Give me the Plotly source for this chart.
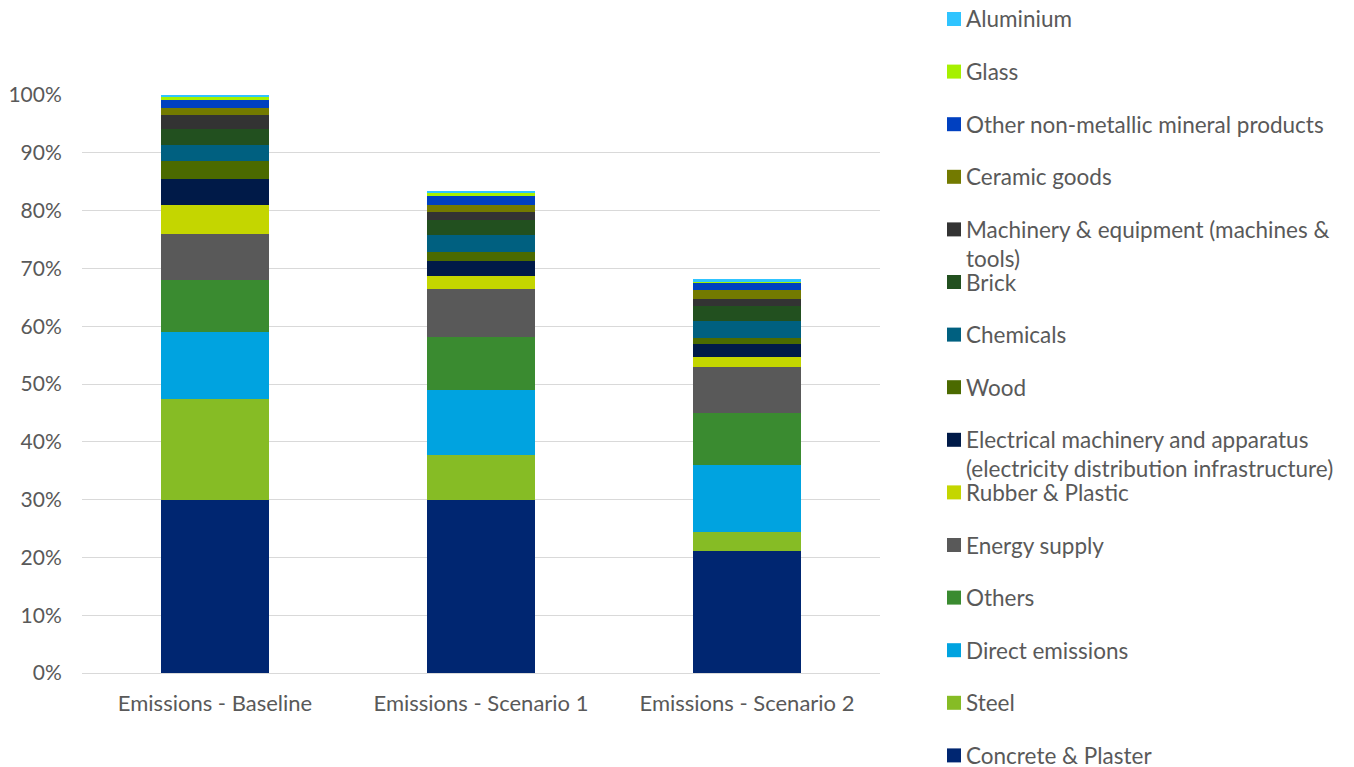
import plotly.graph_objects as go

categories = ["Emissions - Baseline", "Emissions - Scenario 1", "Emissions - Scenario 2"]

series_names = [
    "Concrete & Plaster", "Steel", "Direct emissions", "Others", "Energy supply",
    "Rubber & Plastic",
    "Electrical machinery and apparatus<br>(electricity distribution infrastructure)",
    "Wood", "Chemicals", "Brick", "Machinery & equipment (machines &<br>tools)",
    "Ceramic goods", "Other non-metallic mineral products", "Glass", "Aluminium",
]

concrete = [30.0, 30.0, 21.1]
steel = [17.4, 7.7, 3.3]
direct = [11.6, 11.3, 11.6]
others = [9.0, 9.1, 9.0]
energy = [8.0, 8.3, 7.9]
rubber = [5.0, 2.3, 1.8]
electrical = [4.4, 2.5, 2.3]
wood = [3.1, 1.7, 1.0]
chemicals = [2.8, 2.9, 2.9]
brick = [2.8, 2.6, 2.6]
machinery = [2.4, 1.4, 1.2]
ceramic = [1.3, 1.2, 1.6]
other_nonmetal = [1.3, 1.5, 1.1]
glass = [0.6, 0.6, 0.4]
aluminium = [0.3, 0.3, 0.3]

series_values = [concrete, steel, direct, others, energy, rubber, electrical, wood,
                 chemicals, brick, machinery, ceramic, other_nonmetal, glass, aluminium]

colors = ["#002671", "#86BC25", "#00A3E0", "#3A8B30", "#595959", "#C4D600",
          "#001A48", "#4B6A00", "#006080", "#22501F", "#333333", "#737A00",
          "#0040C0", "#A6F000", "#2FC4FF"]

y_ticks = [0, 10, 20, 30, 40, 50, 60, 70, 80, 90, 100]
y_tick_labels = [f"{t}%" for t in y_ticks]

FONT = "Lato"
GRAY = "#595959"

fig = go.Figure()
for name, vals, col in zip(series_names, series_values, colors):
    fig.add_trace(go.Bar(x=categories, y=vals, name=name, marker=dict(color=col, line=dict(width=0)),
                         showlegend=False))

# page is offset by 8px (body margin), so figure pixel coords = page coords - 8
W, H = 1354, 767
L, R, T, B = 74, 482, 87, 102
pw, ph = W - L - R, H - T - B

def px_to_paper(px, py):
    return (px - L) / pw, (H - B - py) / ph

LEG_FONT = 22.5
shapes = []
annotations = []
legend_order = list(range(len(series_names)))[::-1]
for i, idx in enumerate(legend_order):
    cy = 11 + 52.6 * i
    x0, y0 = px_to_paper(939, cy - 7)
    x1, y1 = px_to_paper(953, cy + 7)
    shapes.append(dict(type="rect", xref="paper", yref="paper", x0=x0, x1=x1, y0=y1, y1=y0,
                       fillcolor=colors[idx], line=dict(width=0)))
    tx, ty = px_to_paper(956, cy - 15.5)
    annotations.append(dict(xref="paper", yref="paper", x=tx, y=ty, xanchor="left", yanchor="top",
                            text=series_names[idx], showarrow=False, align="left",
                            font=dict(family=FONT, size=LEG_FONT, color=GRAY)))

fig.update_layout(
    barmode="stack",
    bargap=0.596,
    width=W, height=H,
    margin=dict(l=L, r=R, t=T, b=B, autoexpand=False),
    plot_bgcolor="white", paper_bgcolor="white",
    font=dict(family=FONT, color=GRAY),
    shapes=shapes,
    annotations=annotations,
    xaxis=dict(tickfont=dict(size=22, color=GRAY), showgrid=False, showline=False,
               automargin=False,
               ticks="outside", ticklen=11, tickcolor="rgba(0,0,0,0)"),
    yaxis=dict(range=[0, 100], tickvals=y_ticks, ticktext=y_tick_labels, automargin=False,
               tickfont=dict(size=21, color=GRAY), showgrid=True, gridcolor="#D9D9D9",
               gridwidth=1, zeroline=True, zerolinecolor="#D9D9D9", zerolinewidth=1,
               ticks="outside", ticklen=15, tickcolor="rgba(0,0,0,0)"),
)

fig.write_html("out.html")
